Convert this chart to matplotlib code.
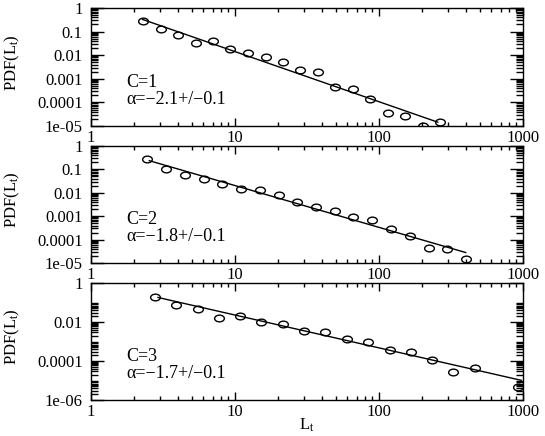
import numpy as np
import matplotlib
matplotlib.use('Agg')
import matplotlib.pyplot as plt
from matplotlib.path import Path
from matplotlib.transforms import Affine2D
from matplotlib.ticker import FixedLocator, FixedFormatter

# Data =========================================================================
x_c1 = [2.28, 3.04, 4.03, 5.33, 7.03, 9.29, 12.3, 16.3, 21.6, 28.5, 37.5,
        49.5, 65.7, 86.7, 115, 151, 201, 265]
y_c1 = [0.277, 0.132, 0.0695, 0.0342, 0.0391, 0.0186, 0.0120, 0.0080,
        0.00533, 0.00245, 0.00187, 4.54e-4, 3.71e-4, 1.39e-4, 3.49e-5,
        2.66e-5, 1.03e-5, 1.55e-5]
fit_x_c1 = [2.28, 256]
fit_y_c1 = [0.328, 1.45e-5]

x_c2 = [2.46, 3.32, 4.48, 6.05, 8.17, 11.0, 14.9, 20.1, 27.0, 36.6, 49.2,
        66.4, 89.7, 121, 163, 221, 298, 402]
y_c2 = [0.280, 0.107, 0.0577, 0.0382, 0.0228, 0.0141, 0.0132, 0.00813,
        0.00395, 0.00236, 0.00167, 9.02e-4, 6.62e-4, 2.90e-4, 1.36e-4,
        4.24e-5, 4.09e-5, 1.46e-5]
fit_x_c2 = [2.54, 400]
fit_y_c2 = [0.236, 2.8e-5]

x_c3 = [2.80, 3.92, 5.51, 7.73, 10.9, 15.2, 21.5, 30.3, 42.1, 59.8, 84.4,
        119, 167, 234, 329, 465, 920]
y_c3 = [0.196, 0.0707, 0.049, 0.0170, 0.0208, 0.0104, 0.00752, 0.00347,
        0.00294, 0.00130, 9.4e-4, 3.84e-4, 3.01e-4, 1.13e-4, 2.61e-5,
        4.61e-5, 4.52e-6]
fit_x_c3 = [2.92, 973]
fit_y_c3 = [0.181, 1.02e-5]

panel_names = ['C=1', 'C=2', 'C=3']
alpha_texts = ['α=−2.1+/−0.1', 'α=−1.8+/−0.1', 'α=−1.7+/−0.1']

x_ticks = [1, 10, 100, 1000]
x_ticklabels = ['1', '10', '100', '1000']
y_ticks_12 = [1, 0.1, 0.01, 0.001, 0.0001, 1e-05]
y_ticklabels_12 = ['1', '0.1', '0.01', '0.001', '0.0001', '1e-05']
y_ticks_3 = [1, 0.01, 0.0001, 1e-06]
y_ticklabels_3 = ['1', '0.01', '0.0001', '1e-06']

# Style ========================================================================
plt.rcParams['font.family'] = ['Liberation Serif', 'DejaVu Serif']
plt.rcParams['mathtext.fontset'] = 'custom'
plt.rcParams['mathtext.rm'] = 'Liberation Serif'
plt.rcParams['mathtext.it'] = 'Liberation Serif:italic'
fs = 12

# open circle, a bit wider than tall (the original was stretched sideways)
circ = Path.unit_circle()
ell = Path(Affine2D().scale(1.45, 1.0).transform(circ.vertices), circ.codes)


def minor_list(majors):
    lo, hi = np.log10(min(majors)), np.log10(max(majors))
    out = []
    for k in range(int(round(lo)), int(round(hi)) + 1):
        for m in range(2, 10):
            out.append(m * 10.0 ** k)
    return out


fig = plt.figure(figsize=(5.45, 4.36), dpi=100)
left, right = 91 / 545, 523 / 545
rows = [(8, 126), (146, 263), (283, 400)]
panels = [(x_c1, y_c1, fit_x_c1, fit_y_c1, y_ticks_12, y_ticklabels_12, 1e-05),
          (x_c2, y_c2, fit_x_c2, fit_y_c2, y_ticks_12, y_ticklabels_12, 1e-05),
          (x_c3, y_c3, fit_x_c3, fit_y_c3, y_ticks_3, y_ticklabels_3, 1e-06)]

for i, (xs, ys, fx, fy, yt, ytl, ymin) in enumerate(panels):
    top_px, bot_px = rows[i]
    ax = fig.add_axes([left, 1 - bot_px / 436, right - left,
                       (bot_px - top_px) / 436])
    ax.set_xscale('log')
    ax.set_yscale('log')
    ax.plot(fx, fy, color='black', lw=1.0)
    ax.plot(xs, ys, linestyle='none', marker=ell, markersize=7,
            markerfacecolor='none', markeredgecolor='black',
            markeredgewidth=1.0)
    ax.set_xlim(1, 1000)
    ax.set_ylim(ymin, 1)

    ax.xaxis.set_major_locator(FixedLocator(x_ticks))
    ax.xaxis.set_major_formatter(FixedFormatter(x_ticklabels))
    ax.xaxis.set_minor_locator(FixedLocator(minor_list([1, 100])))
    ax.yaxis.set_major_locator(FixedLocator(yt))
    ax.yaxis.set_major_formatter(FixedFormatter(ytl))
    ax.yaxis.set_minor_locator(FixedLocator(minor_list(yt[1:])))
    ax.xaxis.set_minor_formatter(FixedFormatter([]))
    ax.yaxis.set_minor_formatter(FixedFormatter([]))

    ax.tick_params(which='both', direction='in', top=True, right=True,
                   labelsize=fs, width=1.0)
    ax.tick_params(axis='x', which='major', length=6, pad=3)
    ax.tick_params(axis='x', which='minor', length=3.2)
    ax.tick_params(axis='y', which='major', length=9.5, pad=6)
    ax.tick_params(axis='y', which='minor', length=4.8)
    for sp in ax.spines.values():
        sp.set_linewidth(1.0)

    ax.set_ylabel(r'PDF(L$_\mathregular{t}$)', fontsize=fs)
    ax.yaxis.set_label_coords(-0.16, 0.54)
    ax.text(0.081, 0.37, panel_names[i], transform=ax.transAxes,
            fontsize=13, va='center', ha='left')
    ax.text(0.081, 0.225, alpha_texts[i], transform=ax.transAxes,
            fontsize=13, va='center', ha='left')
    if i == 2:
        ax.set_xlabel(r'L$_\mathregular{t}$', fontsize=fs)
        ax.xaxis.set_label_coords(0.5, -0.145)

fig.savefig('out.png', dpi=100)
